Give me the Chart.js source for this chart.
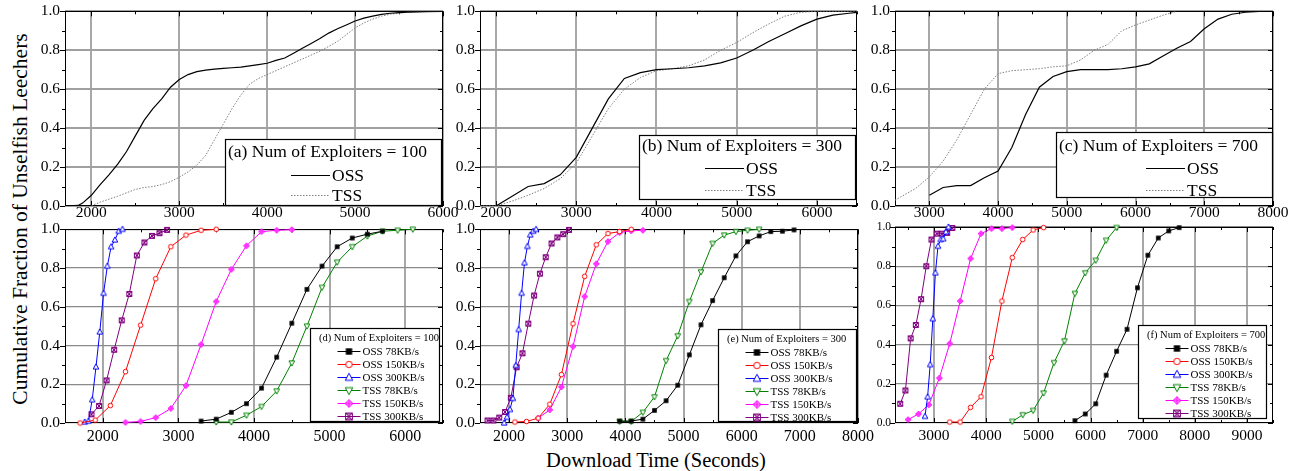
<!DOCTYPE html>
<html>
<head>
<meta charset="utf-8">
<script src="https://cdn.jsdelivr.net/npm/chart.js@4/dist/chart.umd.min.js"></script>
<style>
html, body { margin: 0; padding: 0; background: #fff; }
body { width: 1298px; height: 471px; position: relative; overflow: hidden; font-family: 'Liberation Serif', 'Times New Roman', serif; }
canvas { position: absolute; }
.axis-title { position: absolute; white-space: nowrap; color: #000; transform: translate(-50%, -50%); }
#ytitle { left: 19.5px; top: 219px; font-size: 21.5px; transform: translate(-50%, -50%) rotate(-90deg); }
#xtitle { left: 656px; top: 460px; font-size: 20.5px; }
</style>
</head>
<body>
<div class="axis-title" id="ytitle">Cumulative Fraction of Unselfish Leechers</div>
<div class="axis-title" id="xtitle">Download Time (Seconds)</div>
<script>
const FONT = "'Liberation Serif', 'Times New Roman', serif";

// ---- top row: (a) (b) (c), OSS vs TSS curves
const aOssTime = [1700, 1850, 1900, 2000, 2100, 2200, 2300, 2400, 2500, 2600, 2700, 2800, 2900, 3000, 3100, 3200, 3300, 3400, 3500, 3600, 3700, 3800, 3900, 4000, 4100, 4200, 4300, 4400, 4500, 4600, 4700, 4800, 4900, 5000, 5100, 5200, 5300, 5400, 5500, 5600, 5800, 6000];
const aOssFrac = [0, 0.003, 0.015, 0.055, 0.11, 0.16, 0.215, 0.28, 0.36, 0.44, 0.5, 0.55, 0.61, 0.65, 0.675, 0.69, 0.698, 0.703, 0.707, 0.71, 0.713, 0.72, 0.726, 0.733, 0.748, 0.76, 0.785, 0.81, 0.835, 0.86, 0.888, 0.91, 0.93, 0.95, 0.965, 0.975, 0.984, 0.99, 0.993, 0.996, 0.998, 1.0];
const aTssTime = [2000, 2100, 2200, 2300, 2400, 2500, 2600, 2700, 2800, 2900, 3000, 3100, 3200, 3300, 3400, 3500, 3600, 3700, 3800, 3900, 4000, 4100, 4200, 4300, 4400, 4500, 4600, 4700, 4800, 4900, 5000, 5100, 5200, 5300, 5400, 5500, 5600, 5800, 6000];
const aTssFrac = [0, 0.02, 0.035, 0.05, 0.068, 0.085, 0.095, 0.1, 0.11, 0.125, 0.148, 0.175, 0.21, 0.26, 0.34, 0.42, 0.5, 0.57, 0.625, 0.655, 0.675, 0.695, 0.715, 0.735, 0.755, 0.775, 0.795, 0.82, 0.845, 0.88, 0.915, 0.94, 0.96, 0.975, 0.985, 0.99, 0.995, 0.998, 1.0];

const bOssTime = [2000, 2400, 2600, 2800, 3000, 3200, 3400, 3600, 3800, 4000, 4200, 4400, 4600, 4800, 5000, 5200, 5400, 5600, 5800, 6000, 6200, 6400, 6500];
const bOssFrac = [0, 0.10, 0.115, 0.16, 0.25, 0.40, 0.55, 0.655, 0.685, 0.70, 0.705, 0.71, 0.72, 0.735, 0.76, 0.80, 0.845, 0.885, 0.925, 0.96, 0.98, 0.99, 0.995];
const bTssTime = [1800, 2000, 2200, 2400, 2600, 2800, 3000, 3200, 3400, 3600, 3800, 4000, 4200, 4400, 4600, 4800, 5000, 5200, 5400, 5600, 5800, 6000, 6500];
const bTssFrac = [0, 0, 0.025, 0.055, 0.09, 0.14, 0.22, 0.36, 0.50, 0.60, 0.66, 0.695, 0.705, 0.72, 0.75, 0.80, 0.84, 0.89, 0.935, 0.975, 0.995, 1.0, 1.0];

const cOssTime = [3000, 3200, 3400, 3600, 3800, 4000, 4200, 4400, 4600, 4800, 5000, 5200, 5400, 5600, 5800, 6000, 6200, 6400, 6600, 6800, 7000, 7200, 7400, 7600, 7800];
const cOssFrac = [0.055, 0.095, 0.105, 0.105, 0.145, 0.18, 0.30, 0.47, 0.61, 0.665, 0.69, 0.70, 0.70, 0.70, 0.705, 0.715, 0.73, 0.77, 0.81, 0.845, 0.91, 0.96, 0.985, 0.995, 1.0];
const cTssTime = [2500, 2800, 3000, 3200, 3400, 3600, 3800, 4000, 4200, 4400, 4600, 4800, 5000, 5200, 5400, 5600, 5800, 6000, 6200, 6400, 6600];
const cTssFrac = [0.03, 0.09, 0.15, 0.23, 0.34, 0.47, 0.60, 0.68, 0.695, 0.70, 0.705, 0.715, 0.72, 0.75, 0.80, 0.83, 0.90, 0.93, 0.955, 0.98, 1.0];

// ---- bottom row: (d) (e) (f), six upload rates
const dOss78Time = [3300, 3500, 3700, 3900, 4100, 4300, 4500, 4700, 4900, 5100, 5300, 5500, 5700];
const dOss78Frac = [0.01, 0.02, 0.055, 0.10, 0.18, 0.34, 0.515, 0.69, 0.81, 0.91, 0.955, 0.975, 0.99];
const dOss150Time = [1700, 1900, 2100, 2300, 2500, 2700, 2900, 3100, 3300, 3500];
const dOss150Frac = [0, 0.015, 0.09, 0.265, 0.505, 0.745, 0.91, 0.97, 0.995, 1.0];
const dOss300Time = [1760, 1810, 1860, 1910, 1960, 2010, 2060, 2110, 2160, 2210, 2260];
const dOss300Frac = [0.005, 0.01, 0.12, 0.29, 0.47, 0.67, 0.81, 0.91, 0.945, 0.99, 1.0];
const dTss78Time = [3500, 3700, 3900, 4100, 4300, 4500, 4700, 4900, 5100, 5300, 5500, 5700, 5900, 6100];
const dTss78Frac = [0.005, 0.005, 0.04, 0.085, 0.165, 0.31, 0.50, 0.70, 0.83, 0.91, 0.965, 0.99, 0.995, 1.0];
const dTss150Time = [2300, 2500, 2700, 2900, 3100, 3300, 3500, 3700, 3900, 4100, 4300, 4500];
const dTss150Frac = [0.003, 0.008, 0.028, 0.075, 0.193, 0.405, 0.627, 0.793, 0.915, 0.988, 0.995, 0.998];
const dTss300Time = [1850, 1950, 2050, 2150, 2250, 2350, 2450, 2550, 2650, 2750, 2850];
const dTss300Frac = [0.045, 0.088, 0.22, 0.378, 0.53, 0.666, 0.865, 0.932, 0.966, 0.98, 0.997];

const eOss78Time = [3900, 4100, 4300, 4500, 4700, 4900, 5100, 5300, 5500, 5700, 5900, 6100, 6300, 6500, 6700, 6900];
const eOss78Frac = [0.01, 0.01, 0.02, 0.065, 0.115, 0.195, 0.352, 0.507, 0.632, 0.75, 0.863, 0.936, 0.966, 0.988, 0.99, 0.997];
const eOss150Time = [2100, 2300, 2500, 2700, 2900, 3100, 3300, 3500, 3700, 3900, 4100];
const eOss150Frac = [0.005, 0.008, 0.025, 0.097, 0.25, 0.513, 0.757, 0.92, 0.978, 0.988, 1.0];
const eOss300Time = [1915, 1965, 2015, 2065, 2115, 2165, 2215, 2265, 2315, 2365, 2415, 2465];
const eOss300Frac = [0, 0.03, 0.07, 0.127, 0.297, 0.483, 0.67, 0.827, 0.912, 0.971, 0.99, 1.0];
const eTss78Time = [3900, 4100, 4300, 4500, 4700, 4900, 5100, 5300, 5500, 5700, 5900, 6100, 6300];
const eTss78Frac = [0.008, 0.008, 0.055, 0.135, 0.322, 0.45, 0.627, 0.78, 0.927, 0.97, 0.988, 0.995, 1.0];
const eTss150Time = [2500, 2700, 2900, 3100, 3300, 3500, 3700, 3900, 4100, 4300];
const eTss150Frac = [0.025, 0.068, 0.186, 0.395, 0.653, 0.822, 0.937, 0.983, 0.992, 0.995];
const eTss300Time = [1630, 1730, 1830, 1930, 2030, 2130, 2230, 2330, 2430, 2530, 2630, 2730, 2830, 2930, 3030];
const eTss300Frac = [0.013, 0.013, 0.028, 0.057, 0.13, 0.288, 0.36, 0.513, 0.658, 0.771, 0.856, 0.927, 0.958, 0.975, 0.997];

const fOss78Time = [5700, 5900, 6100, 6300, 6500, 6700, 6900, 7100, 7300, 7500, 7700];
const fOss78Frac = [0.012, 0.046, 0.098, 0.244, 0.366, 0.478, 0.69, 0.856, 0.944, 0.98, 0.997];
const fOss150Time = [3300, 3500, 3700, 3900, 4100, 4300, 4500, 4700, 4900, 5100];
const fOss150Frac = [0.005, 0.005, 0.08, 0.134, 0.334, 0.622, 0.844, 0.936, 0.985, 0.997];
const fOss300Time = [2825, 2875, 2925, 2975, 3025, 3075, 3125, 3175, 3225, 3275];
const fOss300Frac = [0.034, 0.133, 0.298, 0.532, 0.766, 0.902, 0.936, 0.94, 0.975, 1.0];
const fTss78Time = [4500, 4700, 4900, 5100, 5300, 5500, 5700, 5900, 6100, 6300, 6500];
const fTss78Frac = [0.008, 0.042, 0.064, 0.153, 0.308, 0.419, 0.661, 0.766, 0.83, 0.932, 0.997];
const fTss150Time = [2500, 2700, 2900, 3100, 3300, 3500, 3700, 3900, 4100, 4300, 4500];
const fTss150Frac = [0.017, 0.046, 0.093, 0.229, 0.405, 0.622, 0.839, 0.966, 0.992, 0.992, 0.997];
const fTss300Time = [2350, 2450, 2550, 2650, 2750, 2850, 2950, 3050, 3150, 3250, 3350];
const fTss300Frac = [0.098, 0.166, 0.432, 0.5, 0.632, 0.8, 0.936, 0.966, 0.966, 0.97, 0.995];

const rateLabels = ['OSS 78KB/s', 'OSS 150KB/s', 'OSS 300KB/s', 'TSS 78KB/s', 'TSS 150KB/s', 'TSS 300KB/s'];
const rateColors = ['#000000', '#ff0000', '#0000ff', '#008000', '#ff00ff', '#800080'];
const rateMarkers = ['square', 'circle', 'up', 'down', 'diamond', 'bowtie'];

const fracTicks = [0, 0.2, 0.4, 0.6, 0.8, 1.0];
const ticksA = [2000, 3000, 4000, 5000, 6000];
const ticksB = [2000, 3000, 4000, 5000, 6000];
const ticksC = [3000, 4000, 5000, 6000, 7000, 8000];
const ticksD = [2000, 3000, 4000, 5000, 6000];
const ticksE = [2000, 3000, 4000, 5000, 6000, 7000, 8000];
const ticksF = [3000, 4000, 5000, 6000, 7000, 8000, 9000];

// ---- markers
function drawMarker(g, kind, color, cx, cy, r) {
    g.lineWidth = 1;
    g.strokeStyle = color;
    g.fillStyle = '#fff';
    g.beginPath();
    if (kind === 'square') {
        g.fillStyle = color;
        g.fillRect(cx - r, cy - r, 2 * r, 2 * r);
        return;
    }
    if (kind === 'circle') {
        g.arc(cx, cy, r, 0, Math.PI * 2);
    } else if (kind === 'up') {
        g.moveTo(cx, cy - r * 1.1);
        g.lineTo(cx + r, cy + r * 0.75);
        g.lineTo(cx - r, cy + r * 0.75);
        g.closePath();
    } else if (kind === 'down') {
        g.moveTo(cx, cy + r * 1.1);
        g.lineTo(cx + r, cy - r * 0.75);
        g.lineTo(cx - r, cy - r * 0.75);
        g.closePath();
    } else if (kind === 'diamond') {
        g.fillStyle = '#ffa8ff';
        g.moveTo(cx, cy - r);
        g.lineTo(cx + r, cy);
        g.lineTo(cx, cy + r);
        g.lineTo(cx - r, cy);
        g.closePath();
        g.fill();
        g.stroke();
        g.beginPath();
        g.moveTo(cx - r, cy); g.lineTo(cx + r, cy);
        g.moveTo(cx, cy - r); g.lineTo(cx, cy + r);
        g.stroke();
        return;
    } else if (kind === 'bowtie') {
        const q = r * 0.9;
        g.fillStyle = '#b878b8';
        g.moveTo(cx - q, cy - q);
        g.lineTo(cx + q, cy - q);
        g.lineTo(cx - q, cy + q);
        g.lineTo(cx + q, cy + q);
        g.closePath();
        g.fill();
        g.stroke();
        g.beginPath();
        g.moveTo(cx - q, cy - q); g.lineTo(cx - q, cy + q);
        g.moveTo(cx + q, cy - q); g.lineTo(cx + q, cy + q);
        g.stroke();
        return;
    }
    g.fill();
    g.stroke();
}

function makeMarker(kind, color, r) {
    const s = Math.ceil(2 * r + 4);
    const c = document.createElement('canvas');
    c.width = s;
    c.height = s;
    drawMarker(c.getContext('2d'), kind, color, s / 2, s / 2, r);
    return c;
}

const plotMarks = rateMarkers.map((m, i) => makeMarker(m, rateColors[i], m === 'square' || m === 'circle' ? 2.3 : 2.8));
const keyMarks = rateMarkers.map((m, i) => makeMarker(m, rateColors[i], m === 'square' || m === 'circle' ? 3.2 : 3.8));

const pts = (xs, ys) => xs.map((x, i) => ({ x: x, y: ys[i] }));

function curveSets(ossT, ossF, tssT, tssF) {
    return [
        { label: 'OSS', data: pts(ossT, ossF), borderColor: '#000', borderWidth: 1.2, pointRadius: 0, tension: 0 },
        { label: 'TSS', data: pts(tssT, tssF), borderColor: '#808080', borderWidth: 1, borderDash: [1.5, 1.5], pointRadius: 0, tension: 0 },
    ];
}

function rateSets(times, fracs) {
    return times.map((t, i) => ({
        label: rateLabels[i],
        data: pts(t, fracs[i]),
        borderColor: rateColors[i],
        borderWidth: 1,
        pointStyle: plotMarks[i],
        pointRadius: 3,
        tension: 0,
        clip: false,
    }));
}

const curveKey = [
    { label: 'OSS', color: '#000', width: 1.2 },
    { label: 'TSS', color: '#808080', dash: [1.5, 1.5] },
];
const rateKey = rateLabels.map((l, i) => ({ label: l, color: rateColors[i], marker: keyMarks[i] }));

// ---- plugins
const framePlugin = {
    id: 'frame',
    beforeDatasetsDraw(chart) {
        const { ctx, chartArea: a, scales } = chart;
        const x = scales.x, y = scales.y;
        ctx.save();
        ctx.strokeStyle = '#000';
        ctx.lineWidth = 1;
        ctx.beginPath();
        for (let k = 0; k <= 10; k++) {
            const py = Math.round(y.getPixelForValue(k / 10)) + 0.5;
            const len = k % 2 === 0 ? 5 : 3;
            ctx.moveTo(a.left - len, py); ctx.lineTo(a.left, py);
            ctx.moveTo(a.right, py); ctx.lineTo(a.right - len, py);
        }
        for (let v = Math.ceil(x.min / 500) * 500; v <= x.max; v += 500) {
            const px = Math.round(x.getPixelForValue(v)) + 0.5;
            const len = v % 1000 === 0 ? 5 : 3;
            ctx.moveTo(px, a.bottom); ctx.lineTo(px, a.bottom - len);
            ctx.moveTo(px, a.top); ctx.lineTo(px, a.top + len);
        }
        ctx.stroke();
        ctx.strokeRect(Math.round(a.left) + 0.5, Math.round(a.top) + 0.5,
            Math.round(a.right - a.left) - 1, Math.round(a.bottom - a.top) - 1);
        ctx.restore();
    },
};

function boxLegend(spec) {
    return {
        id: 'boxLegend',
        afterDatasetsDraw(chart) {
            const { ctx, chartArea: a } = chart;
            const bx = Math.round(a.left + spec.l), by = Math.round(a.top + spec.t);
            ctx.save();
            ctx.fillStyle = '#fff';
            ctx.fillRect(bx, by, spec.w, spec.h);
            ctx.strokeStyle = '#000';
            ctx.lineWidth = 1.2;
            ctx.strokeRect(bx + 0.5, by + 0.5, spec.w, spec.h);
            ctx.textBaseline = 'middle';
            ctx.textAlign = 'left';
            ctx.fillStyle = '#000';
            ctx.font = spec.titleFont + 'px ' + FONT;
            ctx.fillText(spec.title, bx + spec.titleX, by + spec.titleY);
            ctx.font = spec.itemFont + 'px ' + FONT;
            spec.items.forEach((it, i) => {
                const yy = Math.round(by + spec.itemY0 + i * spec.itemStep) + 0.5;
                const x0 = bx + spec.itemX;
                ctx.strokeStyle = it.color;
                ctx.lineWidth = it.width || 1;
                ctx.setLineDash(it.dash || []);
                ctx.beginPath();
                ctx.moveTo(x0, yy);
                ctx.lineTo(x0 + spec.lineLen, yy);
                ctx.stroke();
                ctx.setLineDash([]);
                if (it.marker) {
                    ctx.drawImage(it.marker, x0 + spec.lineLen / 2 - it.marker.width / 2, yy - it.marker.height / 2);
                }
                ctx.fillStyle = '#000';
                ctx.fillText(it.label, x0 + spec.lineLen + 2, yy + 0.5);
            });
            ctx.restore();
        },
    };
}

// ---- panels
const PAD_L = 50, PAD_T = 12, PAD_R = 20, PAD_B = 26;

const topKey = (title, l, t, w, h, ty, y0, step, itemX) => ({
    title: title, l: l, t: t, w: w, h: h, titleX: 3, titleY: ty, titleFont: 17.5,
    itemX: itemX, itemY0: y0, itemStep: step, itemFont: 17.5, lineLen: 39, items: curveKey,
});
const bottomKey = (title, l, t, w, h, y0) => ({
    title: title, l: l, t: t, w: w, h: h, titleX: 9, titleY: 10, titleFont: 10.5,
    itemX: 27.5, itemY0: y0, itemStep: 13, itemFont: 11, lineLen: 23, items: rateKey,
});

const panels = [
    { L: 65, R: 443, T: 9, B: 206, xMin: 1700, xMax: 6000, xTicks: ticksA, xFont: 15.5, xPad: -2.5, yFont: 15.5, yPad: 5, top: true,
      sets: curveSets(aOssTime, aOssFrac, aTssTime, aTssFrac),
      key: topKey('(a) Num of Exploiters = 100', 160, 128, 216, 66, 13, 35.5, 20, 66) },
    { L: 480, R: 857, T: 9, B: 206, xMin: 1800, xMax: 6500, xTicks: ticksB, xFont: 15.5, xPad: -2.5, yFont: 15.5, yPad: 5, top: true,
      sets: curveSets(bOssTime, bOssFrac, bTssTime, bTssFrac),
      key: topKey('(b) Num of Exploiters = 300', 159, 124, 216, 64, 11, 33, 21.5, 66) },
    { L: 895, R: 1273, T: 9, B: 206, xMin: 2500, xMax: 8000, xTicks: ticksC, xFont: 15.5, xPad: -2.5, yFont: 15.5, yPad: 5, top: true,
      sets: curveSets(cOssTime, cOssFrac, cTssTime, cTssFrac),
      key: topKey('(c) Num of Exploiters = 700', 161, 121, 216, 65, 14, 36, 21.5, 90) },
    { L: 65, R: 443, T: 227, B: 423, xMin: 1500, xMax: 6500, xTicks: ticksD, xFont: 16, xPad: 4, yFont: 15.5, yPad: 5, top: false,
      sets: rateSets([dOss78Time, dOss150Time, dOss300Time, dTss78Time, dTss150Time, dTss300Time],
                     [dOss78Frac, dOss150Frac, dOss300Frac, dTss78Frac, dTss150Frac, dTss300Frac]),
      key: bottomKey('(d) Num of Exploiters = 100', 245, 99, 129, 93, 23) },
    { L: 480, R: 858, T: 227, B: 423, xMin: 1500, xMax: 8000, xTicks: ticksE, xFont: 16, xPad: 4, yFont: 15.5, yPad: 5, top: false,
      sets: rateSets([eOss78Time, eOss150Time, eOss300Time, eTss78Time, eTss150Time, eTss300Time],
                     [eOss78Frac, eOss150Frac, eOss300Frac, eTss78Frac, eTss150Frac, eTss300Frac]),
      key: bottomKey('(e) Num of Exploiters = 300', 238, 100, 138, 92, 22.5) },
    { L: 895, R: 1273, T: 227, B: 423, xMin: 2250, xMax: 9500, xTicks: ticksF, xFont: 15.5, xPad: 4, yFont: 11.5, yPad: 4, top: false,
      sets: rateSets([fOss78Time, fOss150Time, fOss300Time, fTss78Time, fTss150Time, fTss300Time],
                     [fOss78Frac, fOss150Frac, fOss300Frac, fTss78Frac, fTss150Frac, fTss300Frac]),
      key: bottomKey('(f) Num of Exploiters = 700', 243, 98, 128, 93, 22.5) },
];

Chart.defaults.font.family = FONT;
Chart.defaults.color = '#000';

panels.forEach((p) => {
    const cv = document.createElement('canvas');
    const w = p.R - p.L + PAD_L + PAD_R;
    const h = p.B - p.T + PAD_T + PAD_B;
    cv.width = w;
    cv.height = h;
    cv.style.left = (p.L - PAD_L) + 'px';
    cv.style.top = (p.T - PAD_T) + 'px';
    cv.style.width = w + 'px';
    cv.style.height = h + 'px';
    document.body.appendChild(cv);

    new Chart(cv, {
        type: 'line',
        data: { datasets: p.sets },
        options: {
            responsive: false,
            animation: false,
            events: [],
            layout: { padding: { top: PAD_T, right: PAD_R, left: 0, bottom: 0 } },
            plugins: { legend: { display: false }, tooltip: { enabled: false } },
            scales: {
                x: {
                    type: 'linear',
                    min: p.xMin,
                    max: p.xMax,
                    afterBuildTicks: (s) => { s.ticks = p.xTicks.map((v) => ({ value: v })); },
                    afterFit: (s) => { s.height = PAD_B; },
                    border: { display: false },
                    grid: { color: '#a8a8a8', lineWidth: 2, drawTicks: false },
                    ticks: { font: { size: p.xFont }, padding: p.xPad, maxRotation: 0, autoSkip: false, callback: (v) => String(v) },
                },
                y: {
                    type: 'linear',
                    min: 0,
                    max: 1,
                    afterBuildTicks: (s) => { s.ticks = fracTicks.map((v) => ({ value: v })); },
                    afterFit: (s) => { s.width = PAD_L; },
                    border: { display: false },
                    grid: { color: p.top ? '#a0a0a0' : '#8a8a8a', lineWidth: p.top ? 2 : 1.2, drawTicks: false },
                    ticks: { font: { size: p.yFont }, padding: p.yPad, callback: (v) => v.toFixed(1) },
                },
            },
        },
        plugins: [framePlugin, boxLegend(p.key)],
    });
});
</script>
</body>
</html>
